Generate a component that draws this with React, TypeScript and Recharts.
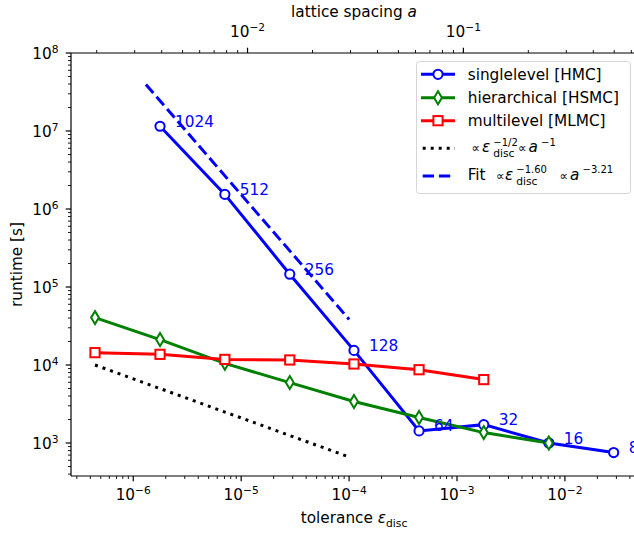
import React from 'react';
import { ComposedChart, Line, XAxis, YAxis, LabelList, Legend } from 'recharts';

// Lattice sizes annotated next to the single-level points
const latticeSizes = [1024, 512, 256, 128, 64, 32, 16, 8];

// Single-level HMC
const singleTolerance = [1.77e-6, 7.06e-6, 2.82e-5, 1.11e-4, 4.45e-4, 1.77e-3, 7.1e-3, 2.83e-2];
const singleRuntime = [1.15e7, 1.54e6, 1.46e5, 1.54e4, 1.43e3, 1.72e3, 1.0e3, 754];

// Hierarchical HSMC
const hierTolerance = [4.42e-7, 1.77e-6, 7.06e-6, 2.82e-5, 1.11e-4, 4.45e-4, 1.77e-3, 7.1e-3];
const hierRuntime = [4.05e4, 2.12e4, 1.05e4, 5.95e3, 3.4e3, 2.12e3, 1.36e3, 1.0e3];

// Multilevel MLMC
const multiTolerance = [4.42e-7, 1.77e-6, 7.06e-6, 2.82e-5, 1.11e-4, 4.45e-4, 1.77e-3];
const multiRuntime = [1.44e4, 1.37e4, 1.18e4, 1.16e4, 1.03e4, 8.7e3, 6.5e3];

// Reference slope eps^-1/2 and fitted slope eps^-1.60
const refTolerance = [4.42e-7, 1.0e-4];
const refRuntime = [1.0e4, 662];
const fitTolerance = [1.31e-6, 1.0e-4];
const fitRuntime = [3.94e7, 3.84e4];

// Axis ranges (log10)
const LOG_EPS_RANGE = [-6.577, -1.332];
const LOG_RUNTIME_RANGE = [2.577, 8];
// tolerance and lattice spacing are related by eps = C * a^2
const LOG_C = -0.941;

const BLUE = '#0000ff';
const GREEN = '#008000';
const RED = '#ff0000';
const FONT = '"DejaVu Sans", sans-serif';
const FS = 15.3;
const FS_SMALL = 10.7;
const FS_PROP = 12;

const toPoints = (xs: number[], ys: number[], extra?: number[]) =>
  xs.map((x, i) => ({ eps: x, runtime: ys[i], n: extra ? extra[i] : undefined }));

const singleData = toPoints(singleTolerance, singleRuntime, latticeSizes);
const hierData = toPoints(hierTolerance, hierRuntime);
const multiData = toPoints(multiTolerance, multiRuntime);
const refData = toPoints(refTolerance, refRuntime);
const fitData = toPoints(fitTolerance, fitRuntime);

function logTicks(lo: number, hi: number): number[] {
  const out: number[] = [];
  for (let e = Math.floor(lo); e <= Math.ceil(hi); e++) {
    for (let m = 1; m <= 9; m++) {
      const v = m * Math.pow(10, e);
      const lv = Math.log10(v);
      if (lv >= lo - 1e-9 && lv <= hi + 1e-9) out.push(v);
    }
  }
  return out;
}

const logARange = [(LOG_EPS_RANGE[0] - LOG_C) / 2, (LOG_EPS_RANGE[1] - LOG_C) / 2];
const epsDomain = [Math.pow(10, LOG_EPS_RANGE[0]), Math.pow(10, LOG_EPS_RANGE[1])];
const aDomain = [Math.pow(10, logARange[0]), Math.pow(10, logARange[1])];
const runtimeDomain = [Math.pow(10, LOG_RUNTIME_RANGE[0]), Math.pow(10, LOG_RUNTIME_RANGE[1])];
const epsTicks = logTicks(LOG_EPS_RANGE[0], LOG_EPS_RANGE[1]);
const aTicks = logTicks(logARange[0], logARange[1]);
const runtimeTicks = logTicks(LOG_RUNTIME_RANGE[0], LOG_RUNTIME_RANGE[1]);

const isMajor = (v: number) => {
  const l = Math.log10(v);
  return Math.abs(l - Math.round(l)) < 1e-6;
};
const expText = (v: number) => {
  const e = Math.round(Math.log10(v));
  return e < 0 ? '\u2212' + -e : String(e);
};

const MAJOR_LEN = 5.3;
const MINOR_LEN = 3;

function BottomTick(props: any) {
  const { x, y, payload } = props;
  const major = isMajor(payload.value);
  return (
    <g>
      <line x1={x} x2={x} y1={y} y2={y + (major ? MAJOR_LEN : MINOR_LEN)} stroke="#000" strokeWidth={major ? 1.2 : 0.9} />
      {major && (
        <text x={x} y={y + 24} textAnchor="middle" fontSize={FS} fontFamily={FONT} fill="#000">
          10<tspan dy={-6} fontSize={FS_SMALL}>{expText(payload.value)}</tspan>
        </text>
      )}
    </g>
  );
}

function TopTick(props: any) {
  const { x, y, payload } = props;
  const major = isMajor(payload.value);
  return (
    <g>
      <line x1={x} x2={x} y1={y} y2={y - (major ? MAJOR_LEN : MINOR_LEN)} stroke="#000" strokeWidth={major ? 1.2 : 0.9} />
      {major && (
        <text x={x} y={y - 16} textAnchor="middle" fontSize={FS} fontFamily={FONT} fill="#000">
          10<tspan dy={-6} fontSize={FS_SMALL}>{expText(payload.value)}</tspan>
        </text>
      )}
    </g>
  );
}

function LeftTick(props: any) {
  const { x, y, payload } = props;
  const major = isMajor(payload.value);
  return (
    <g>
      <line x1={x} x2={x - (major ? MAJOR_LEN : MINOR_LEN)} y1={y} y2={y} stroke="#000" strokeWidth={major ? 1.2 : 0.9} />
      {major && (
        <text x={x - 12.5} y={y + 6.2} textAnchor="end" fontSize={FS} fontFamily={FONT} fill="#000">
          10<tspan dy={-6} fontSize={FS_SMALL}>{expText(payload.value)}</tspan>
        </text>
      )}
    </g>
  );
}

const circleDot = (color: string) => (p: any) => (
  <circle key={`c${p.index}`} cx={p.cx} cy={p.cy} r={4.6} fill="#fff" stroke={color} strokeWidth={2} />
);
const diamondDot = (color: string) => (p: any) => (
  <polygon
    key={`d${p.index}`}
    points={`${p.cx},${p.cy - 6.5} ${p.cx + 3.9},${p.cy} ${p.cx},${p.cy + 6.5} ${p.cx - 3.9},${p.cy}`}
    fill="#fff"
    stroke={color}
    strokeWidth={2}
  />
);
const squareDot = (color: string) => (p: any) => (
  <rect key={`s${p.index}`} x={p.cx - 4.6} y={p.cy - 4.6} width={9.2} height={9.2} fill="#fff" stroke={color} strokeWidth={2} />
);

const SizeLabel = (p: any) => (
  <text x={p.x + 15} y={p.y + 0.5} fontSize={FS} fontFamily={FONT} fill={BLUE}>
    {p.value}
  </text>
);

function LegendBox() {
  const sx1 = 5, sx2 = 39, mx = 22, tx = 51.7;
  const it = { fontStyle: 'italic' as const };
  return (
    <svg width={216} height={134} style={{ display: 'block', overflow: 'visible' }} fontFamily={FONT} fill="#000">
      <rect x={0.5} y={0.5} width={214} height={132} rx={3} fill="#fff" fillOpacity={0.8} stroke="#cccccc" strokeOpacity={0.8} />
      {/* singlelevel */}
      <line x1={sx1} x2={sx2} y1={13.3} y2={13.3} stroke={BLUE} strokeWidth={3} />
      <circle cx={mx} cy={13.3} r={4.6} fill="#fff" stroke={BLUE} strokeWidth={2} />
      <text x={tx} y={19} fontSize={FS}>singlelevel [HMC]</text>
      {/* hierarchical */}
      <line x1={sx1} x2={sx2} y1={36.7} y2={36.7} stroke={GREEN} strokeWidth={3} />
      <polygon points={`${mx},${36.7 - 6.5} ${mx + 3.9},36.7 ${mx},${36.7 + 6.5} ${mx - 3.9},36.7`} fill="#fff" stroke={GREEN} strokeWidth={2} />
      <text x={tx} y={42.3} fontSize={FS}>hierarchical [HSMC]</text>
      {/* multilevel */}
      <line x1={sx1} x2={sx2} y1={59.7} y2={59.7} stroke={RED} strokeWidth={3} />
      <rect x={mx - 4.6} y={59.7 - 4.6} width={9.2} height={9.2} fill="#fff" stroke={RED} strokeWidth={2} />
      <text x={tx} y={65} fontSize={FS}>multilevel [MLMC]</text>
      {/* reference slope */}
      <line x1={sx1 + 1.7} x2={sx2} y1={87.3} y2={87.3} stroke="#000" strokeWidth={3} strokeDasharray="3 5" />
      <text x={55.5} y={90.7} fontSize={FS_PROP}>∝</text>
      <text x={66} y={90.7} fontSize={FS} {...it}>ε</text>
      <text x={77.3} y={95.7} fontSize={FS_SMALL}>disc</text>
      <text x={77.3} y={84.7} fontSize={FS_SMALL - 0.7}>−1/2</text>
      <text x={102} y={90.7} fontSize={FS_PROP}>∝</text>
      <text x={112.5} y={90.7} fontSize={FS} {...it}>a</text>
      <text x={125} y={84.7} fontSize={FS_SMALL - 0.7}>−1</text>
      {/* fitted slope */}
      <line x1={sx1 + 1.7} x2={sx2} y1={115} y2={115} stroke={BLUE} strokeWidth={3} strokeDasharray="11.3 4.9" />
      <text x={tx} y={118.5} fontSize={FS}>Fit</text>
      <text x={80} y={118.5} fontSize={FS_PROP}>∝</text>
      <text x={89} y={118.5} fontSize={FS} {...it}>ε</text>
      <text x={100.3} y={123.5} fontSize={FS_SMALL}>disc</text>
      <text x={100.3} y={112.3} fontSize={FS_SMALL - 0.7}>−1.60</text>
      <text x={143.5} y={118.5} fontSize={FS_PROP}>∝</text>
      <text x={154} y={118.5} fontSize={FS} {...it}>a</text>
      <text x={166.5} y={112.3} fontSize={FS_SMALL - 0.7}>−3.21</text>
    </svg>
  );
}

const BottomLabel = (p: any) => {
  const vb = p.viewBox;
  return (
    <text x={vb.x + vb.width / 2} y={523} textAnchor="middle" fontSize={FS} fontFamily={FONT} fill="#000">
      tolerance <tspan fontStyle="italic">ε</tspan>
      <tspan dy={4} fontSize={FS_SMALL}>disc</tspan>
    </text>
  );
};

const TopLabel = (p: any) => {
  const vb = p.viewBox;
  return (
    <text x={vb.x + vb.width / 2} y={17} textAnchor="middle" fontSize={FS} fontFamily={FONT} fill="#000">
      lattice spacing <tspan fontStyle="italic">a</tspan>
    </text>
  );
};

const LeftLabel = (p: any) => {
  const vb = p.viewBox;
  const cx = 22;
  const cy = vb.y + vb.height / 2;
  return (
    <text x={cx} y={cy} transform={`rotate(-90 ${cx} ${cy})`} textAnchor="middle" fontSize={FS} fontFamily={FONT} fill="#000">
      runtime [s]
    </text>
  );
};

export default function App() {
  return (
    <div style={{ position: 'absolute', left: 0, top: 0 }}>
      <ComposedChart width={634} height={534} margin={{ top: 0, right: -3, bottom: 0, left: 0 }}>
        <XAxis
          xAxisId="bottom"
          dataKey="eps"
          type="number"
          scale="log"
          domain={epsDomain}
          allowDataOverflow
          ticks={epsTicks}
          interval={0}
          tick={<BottomTick />}
          tickLine={false}
          tickSize={0}
          tickMargin={0}
          axisLine={{ stroke: '#000', strokeWidth: 1.2 }}
          height={58}
          orientation="bottom"
          label={<BottomLabel />}
        />
        <XAxis
          xAxisId="top"
          dataKey="a"
          type="number"
          scale="log"
          domain={aDomain}
          allowDataOverflow
          ticks={aTicks}
          interval={0}
          tick={<TopTick />}
          tickLine={false}
          tickSize={0}
          tickMargin={0}
          axisLine={{ stroke: '#000', strokeWidth: 1.2 }}
          height={53}
          orientation="top"
          label={<TopLabel />}
        />
        <YAxis
          yAxisId="left"
          dataKey="runtime"
          type="number"
          scale="log"
          domain={runtimeDomain}
          allowDataOverflow
          ticks={runtimeTicks}
          interval={0}
          tick={<LeftTick />}
          tickLine={false}
          tickSize={0}
          tickMargin={0}
          axisLine={{ stroke: '#000', strokeWidth: 1.2 }}
          width={71}
          label={<LeftLabel />}
        />
        <Line
          xAxisId="bottom"
          yAxisId="left"
          data={singleData}
          dataKey="runtime"
          stroke={BLUE}
          strokeWidth={3}
          dot={circleDot(BLUE)}
          activeDot={false}
          isAnimationActive={false}
        >
          <LabelList dataKey="n" content={<SizeLabel />} />
        </Line>
        <Line
          xAxisId="bottom"
          yAxisId="left"
          data={hierData}
          dataKey="runtime"
          stroke={GREEN}
          strokeWidth={3}
          dot={diamondDot(GREEN)}
          activeDot={false}
          isAnimationActive={false}
        />
        <Line
          xAxisId="bottom"
          yAxisId="left"
          data={multiData}
          dataKey="runtime"
          stroke={RED}
          strokeWidth={3}
          dot={squareDot(RED)}
          activeDot={false}
          isAnimationActive={false}
        />
        <Line
          xAxisId="bottom"
          yAxisId="left"
          data={refData}
          dataKey="runtime"
          stroke="#000"
          strokeWidth={3}
          strokeDasharray="3 5"
          dot={false}
          activeDot={false}
          isAnimationActive={false}
        />
        <Line
          xAxisId="bottom"
          yAxisId="left"
          data={fitData}
          dataKey="runtime"
          stroke={BLUE}
          strokeWidth={3}
          strokeDasharray="11.3 4.9"
          dot={false}
          activeDot={false}
          isAnimationActive={false}
        />
        <Legend
          layout="vertical"
          align="center"
          verticalAlign="middle"
          content={() => <LegendBox />}
          wrapperStyle={{ position: 'absolute', left: 416, top: 61, width: 216, height: 134 }}
        />
      </ComposedChart>
    </div>
  );
}
